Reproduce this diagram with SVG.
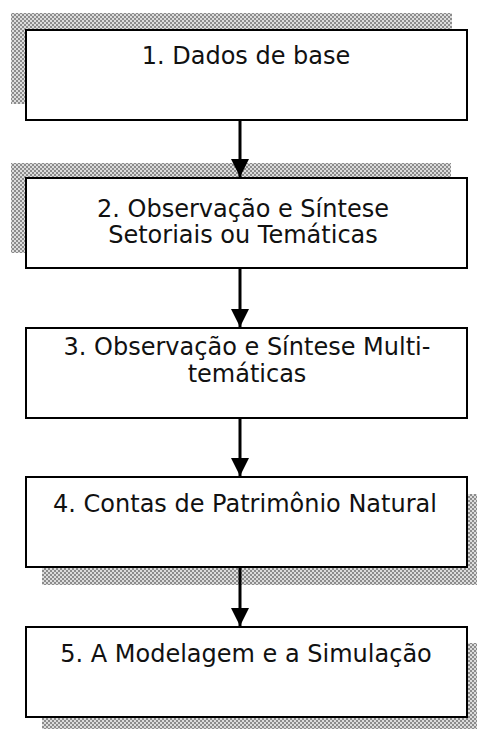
<svg xmlns="http://www.w3.org/2000/svg" width="477" height="729" viewBox="0 0 477 729">
<style>
.box{fill:#fff;stroke:#000;stroke-width:2}
.sh{fill:url(#dots)}
.t{font-family:"DejaVu Sans",Verdana,sans-serif;font-size:24px;fill:#111;text-anchor:middle}
.c{stroke:#000;stroke-width:3;fill:none}
</style>
<defs>
<pattern id="dots" width="4" height="4" patternUnits="userSpaceOnUse">
<rect width="4" height="4" fill="#dcdcdc"/>
<rect width="2" height="2" fill="#8c8c8c"/>
<rect x="2" y="2" width="2" height="2" fill="#8c8c8c"/>
</pattern>
<marker id="ah" viewBox="0 0 10 10" refX="10" refY="5" markerWidth="6" markerHeight="6" markerUnits="strokeWidth" orient="auto">
<path d="M0,0 L10,5 L0,10 Z" fill="#000"/>
</marker>
</defs>
<rect width="477" height="729" fill="#fff"/>
<g id="node1">
<rect class="sh" x="11" y="13" width="441" height="91"/>
<rect class="box" x="26" y="30" width="441" height="90"/>
<text class="t" x="246" y="64">1. Dados de base</text>
</g>
<g id="node2">
<rect class="sh" x="11" y="163" width="440" height="90"/>
<rect class="box" x="26" y="178" width="441" height="90"/>
<text class="t" x="243" y="217">2. Observação e Síntese</text>
<text class="t" x="243" y="243">Setoriais ou Temáticas</text>
</g>
<g id="node3">
<rect class="box" x="26" y="328" width="441" height="90"/>
<text class="t" x="247" y="355">3. Observação e Síntese Multi-</text>
<text class="t" x="247" y="382">temáticas</text>
</g>
<g id="node4">
<rect class="sh" x="42" y="494" width="435" height="91"/>
<rect class="box" x="26" y="477" width="441" height="90"/>
<text class="t" x="245" y="512">4. Contas de Patrimônio Natural</text>
</g>
<g id="node5">
<rect class="sh" x="42" y="643" width="435" height="86"/>
<rect class="box" x="26" y="627" width="441" height="90"/>
<text class="t" x="246" y="662">5. A Modelagem e a Simulação</text>
</g>
<g id="connectors">
<line class="c" x1="240" y1="121" x2="240" y2="177" marker-end="url(#ah)"/>
<line class="c" x1="240" y1="269" x2="240" y2="327" marker-end="url(#ah)"/>
<line class="c" x1="240" y1="419" x2="240" y2="476" marker-end="url(#ah)"/>
<line class="c" x1="240" y1="568" x2="240" y2="626" marker-end="url(#ah)"/>
</g>
</svg>
